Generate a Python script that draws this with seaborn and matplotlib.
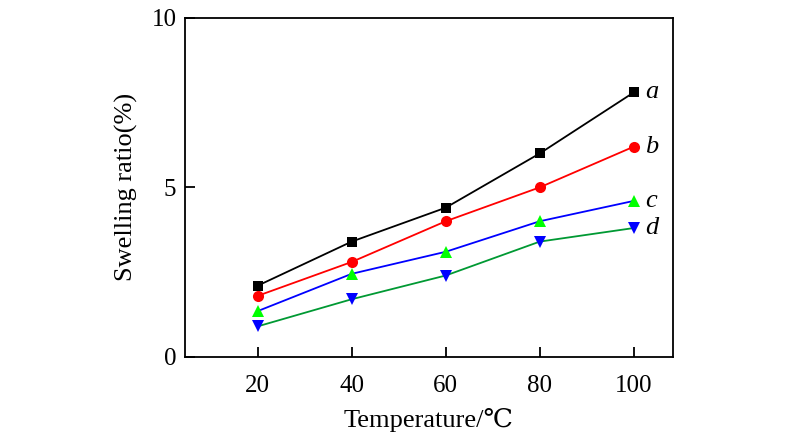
import matplotlib
matplotlib.use('Agg')
import matplotlib.pyplot as plt
import seaborn as sns
import pandas as pd

# 온도별 팽윤율 데이터
temperature = [20, 40, 60, 80, 100]
swell_a = [2.1, 3.4, 4.4, 6.0, 7.8]
swell_b = [1.8, 2.8, 4.0, 5.0, 6.2]
swell_c = [1.35, 2.45, 3.1, 4.0, 4.6]
swell_d = [0.9, 1.7, 2.4, 3.4, 3.8]
names = ['a', 'b', 'c', 'd']

sns.set_style('ticks')
plt.rcParams['font.family'] = ['Liberation Serif', 'DejaVu Serif']
plt.rcParams['text.color'] = 'black'
plt.rcParams['axes.labelcolor'] = 'black'
plt.rcParams['xtick.color'] = 'black'
plt.rcParams['ytick.color'] = 'black'

fig = plt.figure(figsize=(8, 4.45), dpi=100)
ax = fig.add_axes([0.231, 0.198, 0.610, 0.762])

# (선 색, 마커, 마커 색, 마커 크기)
styles = [('black', 's', 'black', 7),
          ('#ff0000', 'o', '#ff0000', 8),
          ('#0000ff', '^', '#00ff00', 9),
          ('#009933', 'v', '#0000ff', 9)]

for name, vals, (lc, mk, mc, ms) in zip(names, [swell_a, swell_b, swell_c, swell_d], styles):
    df = pd.DataFrame({'T': temperature, 'S': vals})
    sns.lineplot(data=df, x='T', y='S', ax=ax, color=lc, linewidth=1.3,
                 marker=mk, markersize=ms, markerfacecolor=mc,
                 markeredgecolor=mc, markeredgewidth=0)
    ax.annotate(name, xy=(temperature[-1], vals[-1]), xytext=(8, 0),
                textcoords='offset points', fontsize=19, style='italic',
                va='center', ha='left', color='black')

ax.set_xlim(4.5, 108.3)
ax.set_ylim(0, 10)
ax.set_xticks(temperature)
ax.set_yticks([0, 5, 10])
ax.tick_params(direction='in', length=7, width=1.3, labelsize=18, pad=6)
ax.tick_params(axis='x', pad=13)
for s in ax.spines.values():
    s.set_linewidth(1.3)
    s.set_color('black')

ax.set_xlabel('Temperature/\u2103', fontsize=19, labelpad=8)
ax.set_ylabel('Swelling ratio(%)', fontsize=19, labelpad=10)

fig.savefig('out.png', dpi=100)
